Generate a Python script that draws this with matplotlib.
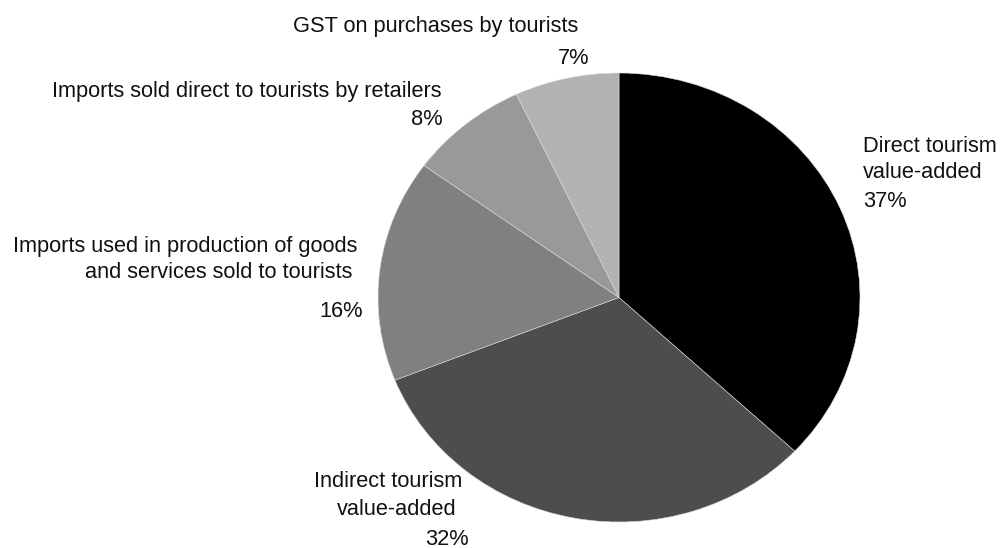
import matplotlib
matplotlib.use("Agg")
import matplotlib.pyplot as plt

plt.rcParams['font.family'] = ['Liberation Sans', 'DejaVu Sans']

# shares of tourism expenditure, clockwise from 12 o'clock
categories = ["Direct tourism\nvalue-added",
              "Indirect tourism\nvalue-added",
              "Imports used in production of goods\nand services sold to tourists",
              "Imports sold direct to tourists by retailers",
              "GST on purchases by tourists"]
shares = [37, 32, 16, 8, 7]
colours = ["#000000", "#4d4d4d", "#808080", "#999999", "#b2b2b2"]

# label lines: (x, baseline, alignment) in pixels from the top-left corner
label_pos = [
    [(863, 152, "left"), (863, 178, "left"), (863, 207, "left")],
    [(462, 487, "right"), (457, 515, "right"), (469, 545, "right")],
    [(357, 252, "right"), (352, 278, "right"), (363, 317, "right")],
    [(442, 97, "right"), (443, 125, "right")],
    [(578, 32, "right"), (589, 64, "right")],
]

W, H = 1001, 548
fig = plt.figure(figsize=(W / 100, H / 100), dpi=100)

# pie box: x 378..860, y 73..522 (slightly squashed vertically)
ax = fig.add_axes([378 / W, (H - 522) / H, 482 / W, 449 / H])
ax.pie(shares, colors=colours, startangle=90, counterclock=False,
       wedgeprops=dict(edgecolor="#d9d9d9", linewidth=0.4))
ax.set_aspect("auto")
ax.set_xlim(-1, 1)
ax.set_ylim(-1, 1)
ax.axis("off")

# overlay in pixel coordinates for the labels
tx = fig.add_axes([0, 0, 1, 1])
tx.set_xlim(0, W)
tx.set_ylim(H, 0)
tx.axis("off")
tx.patch.set_alpha(0)

for cat, val, pos in zip(categories, shares, label_pos):
    lines = cat.split("\n") + ["%d%%" % val]
    for text, (x, y, ha) in zip(lines, pos):
        tx.text(x, y, text, ha=ha, va="baseline", fontsize=15.7, color="#111111")

fig.savefig("out.png", dpi=100)
